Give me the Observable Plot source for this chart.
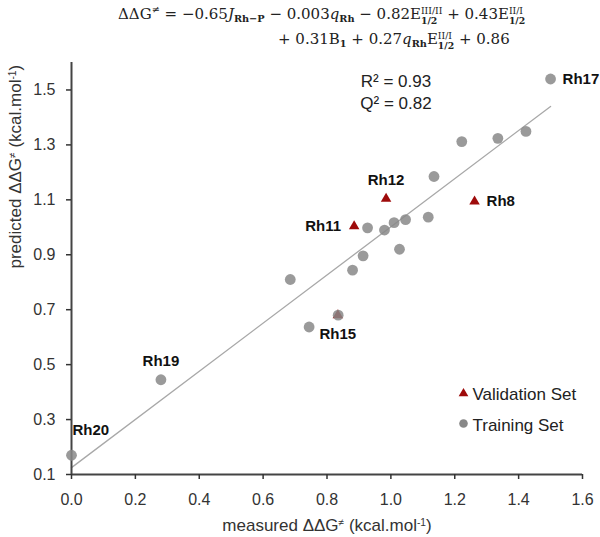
<!DOCTYPE html>
<html>
<head>
<meta charset="utf-8">
<script src="https://cdn.jsdelivr.net/npm/d3@7"></script>
<script src="https://cdn.jsdelivr.net/npm/@observablehq/plot@0.6"></script>
<style>
  html, body { margin: 0; padding: 0; background: #fff; }
  #wrap { position: relative; width: 600px; height: 537px; overflow: hidden; }
  #eq { position: absolute; top: 0; left: 0; width: 600px; height: 60px;
        font-family: "DejaVu Serif", "Liberation Serif", serif; font-size: 15px; color: #222; }
  .ln { position: absolute; white-space: nowrap; line-height: 20px; }
  #l1 { left: 118px; top: 4px; }
  #l2 { left: 278px; top: 29px; }
  .ln sub { font-size: 0.65em; font-weight: bold; vertical-align: -0.35em; line-height: 0; }
  .ln sup { font-size: 0.65em; vertical-align: 0.6em; line-height: 0; }
  .ss { display: inline-block; font-size: 0.62em; line-height: 1.05; vertical-align: -0.55em; }
  .ss span { display: block; }
  .ss span.b { font-weight: bold; }
  #chart { position: absolute; top: 0; left: 0; }
</style>
</head>
<body>
<div id="wrap">
  <div id="chart"></div>
  <div id="eq">
    <div class="ln" id="l1">ΔΔG<sup>≠</sup> = −0.65<i>J</i><sub>Rh−P</sub> − 0.003<i>q</i><sub>Rh</sub> − 0.82E<span class="ss"><span>III/II</span><span class="b">1/2</span></span> + 0.43E<span class="ss"><span>II/I</span><span class="b">1/2</span></span></div>
    <div class="ln" id="l2">+ 0.31B<sub>1</sub> + 0.27<i>q</i><sub>Rh</sub>E<span class="ss"><span>II/I</span><span class="b">1/2</span></span> + 0.86</div>
  </div>
</div>
<script>
// ---- data ----
const trainingNames = ["Rh20", "Rh19", "", "", "", "", "", "", "", "", "", "", "", "", "", "", "", "Rh17"];
const trainingX = [0.00, 0.28, 0.685, 0.744, 0.835, 0.88, 0.913, 0.927, 0.98, 1.01, 1.027, 1.046, 1.117, 1.135, 1.222, 1.335, 1.423, 1.50];
const trainingY = [0.17, 0.445, 0.81, 0.637, 0.68, 0.844, 0.896, 0.998, 0.99, 1.017, 0.92, 1.028, 1.037, 1.185, 1.312, 1.324, 1.349, 1.54];

const validationNames = ["Rh15", "Rh11", "Rh12", "Rh8"];
const validationX = [0.834, 0.885, 0.985, 1.262];
const validationY = [0.68, 1.004, 1.104, 1.094];

const fitX = [0.0, 1.50];
const fitY = [0.125, 1.44];

const xTicks = [0.0, 0.2, 0.4, 0.6, 0.8, 1.0, 1.2, 1.4, 1.6];
const yTicks = [0.1, 0.3, 0.5, 0.7, 0.9, 1.1, 1.3, 1.5];
const xDomain = [0, 1.6];
const yDomain = [0.1, 1.6];

const stats = ["R² = 0.93", "Q² = 0.82"];
const legendLabels = ["Validation Set", "Training Set"];
const xTitle = "measured ΔΔG≠ (kcal.mol-1)";
const yTitle = "predicted ΔΔG≠ (kcal.mol-1)";

// ---- tables ----
const training = trainingX.map((x, i) => ({x, y: trainingY[i], name: trainingNames[i]}));
const validation = validationX.map((x, i) => ({x, y: validationY[i], name: validationNames[i]}));
const fit = fitX.map((x, i) => ({x, y: fitY[i]}));
const allPts = training.concat(validation);

const placement = {Rh17: "right", Rh8: "right", Rh11: "left", Rh12: "above", Rh19: "above", Rh15: "below", Rh20: "corner"};
const pick = p => allPts.filter(d => d.name && placement[d.name] === p);

const FONT = "Liberation Sans, Arial, Helvetica, sans-serif";
const GRAY = "#888888";
const RED = "#9e0b0b";
const AX = "#444444";
const lbl = {x: "x", y: "y", text: "name", fontWeight: "bold", fontSize: 15, fill: "#111", fontFamily: FONT};

const chart = Plot.plot({
  width: 600,
  height: 537,
  marginLeft: 71,
  marginRight: 18,
  marginTop: 62,
  marginBottom: 63,
  style: {fontFamily: FONT, background: "white"},
  x: {domain: xDomain},
  y: {domain: yDomain},
  marks: [
    Plot.line(fit, {x: "x", y: "y", stroke: "#a8a8a8", strokeWidth: 1.3}),
    Plot.ruleX([xDomain[0]], {stroke: AX, strokeWidth: 2}),
    Plot.ruleY([yDomain[0]], {stroke: AX, strokeWidth: 2}),
    Plot.axisX({ticks: xTicks, tickFormat: d3.format(".1f"), tickSize: 5, tickPadding: 14, fontSize: 16, color: "#333", strokeWidth: 1.5, label: null}),
    Plot.axisY({ticks: yTicks, tickFormat: d3.format(".1f"), tickSize: 5, tickPadding: 11, fontSize: 16, color: "#333", strokeWidth: 1.5, label: null}),
    Plot.dot(validation, {x: "x", y: "y", symbol: "triangle", r: 3.9, fill: RED, stroke: "none"}),
    Plot.dot(training, {x: "x", y: "y", r: 5.4, fill: GRAY, fillOpacity: 0.85, stroke: "none"}),
    Plot.text(pick("right"), {...lbl, textAnchor: "start", dx: 12}),
    Plot.text(pick("left"), {...lbl, textAnchor: "end", dx: -13}),
    Plot.text(pick("above"), {...lbl, dy: -19}),
    Plot.text(pick("below"), {...lbl, dy: 19}),
    Plot.text(pick("corner"), {...lbl, textAnchor: "start", dx: 1, dy: -25}),
    Plot.text([stats.join("\n")], {text: d => d, frameAnchor: "top", dx: 69, dy: 28, lineAnchor: "middle", lineHeight: 1.3, fontSize: 17, fill: "#222", fontFamily: FONT}),
    Plot.dot([legendLabels[0]], {frameAnchor: "top-left", dx: 392, dy: 331, symbol: "triangle", r: 3.6, fill: RED, stroke: "none"}),
    Plot.dot([legendLabels[1]], {frameAnchor: "top-left", dx: 392, dy: 361, r: 4.3, fill: GRAY, stroke: "none"}),
    Plot.text([legendLabels[0]], {text: d => d, frameAnchor: "top-left", dx: 401, dy: 332, textAnchor: "start", lineAnchor: "middle", fontSize: 17, fill: "#222", fontFamily: FONT}),
    Plot.text([legendLabels[1]], {text: d => d, frameAnchor: "top-left", dx: 401, dy: 363, textAnchor: "start", lineAnchor: "middle", fontSize: 17, fill: "#222", fontFamily: FONT}),
    Plot.text([xTitle], {text: d => d, frameAnchor: "bottom", dy: 51, lineAnchor: "middle", fontSize: 17, fill: "#333", fontFamily: FONT}),
    Plot.text([yTitle], {text: d => d, frameAnchor: "left", dx: -56, rotate: -90, lineAnchor: "middle", fontSize: 17, fill: "#333", fontFamily: FONT})
  ]
});
document.getElementById("chart").appendChild(chart);

// superscripts inside the axis titles
d3.select(chart).selectAll("text").each(function () {
  const t = this.textContent;
  if (t !== xTitle && t !== yTitle) return;
  const el = d3.select(this);
  const head = t.split("ΔΔG≠")[0];
  el.text(null);
  el.append("tspan").text(head + "ΔΔG");
  el.append("tspan").attr("baseline-shift", "super").attr("font-size", "0.6em").text("≠");
  el.append("tspan").text(" (kcal.mol");
  el.append("tspan").attr("baseline-shift", "super").attr("font-size", "0.6em").text("-1");
  el.append("tspan").text(")");
});
</script>
</body>
</html>
